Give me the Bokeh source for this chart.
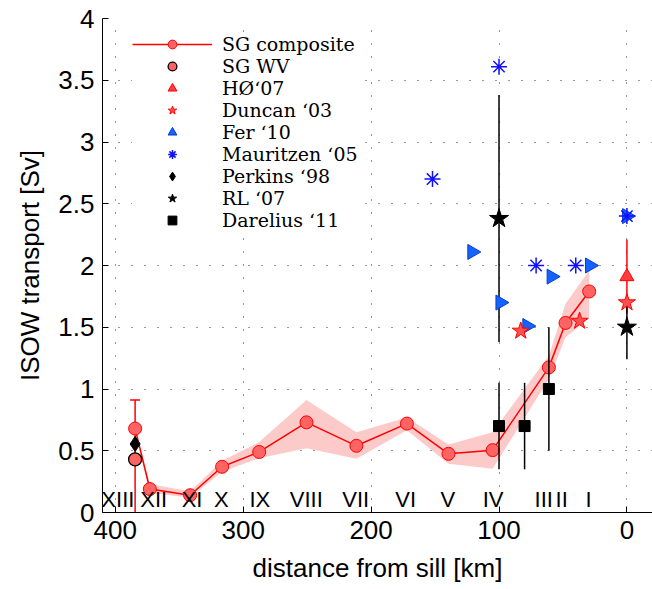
import numpy as np
from bokeh.plotting import figure
from bokeh.models import (Range1d, FixedTicker, CustomJSTickFormatter, Legend,
                          LegendItem, ColumnDataSource)
from bokeh.core.properties import value
from bokeh.embed import file_html
from bokeh.resources import INLINE

# ---------------- data ----------------
# SG composite (stations XIII .. I)
sg_dist = [384.5, 373, 341.5, 316.5, 287.5, 250.5, 211.5, 172, 139.5, 105, 61, 48, 29.5]
sg_transport = [0.68, 0.19, 0.14, 0.37, 0.49, 0.73, 0.54, 0.72, 0.475, 0.505, 1.175, 1.535, 1.79]
sg_lower = [0.67, 0.16, 0.12, 0.33, 0.44, 0.52, 0.435, 0.665, 0.395, 0.355, 1.08, 1.42, 1.57]
sg_upper = [0.69, 0.23, 0.17, 0.42, 0.57, 0.91, 0.65, 0.77, 0.55, 0.65, 1.27, 1.69, 1.96]
# error bar on the westernmost composite value
sg_err_dist = [384.5]
sg_err_top = [0.91]
sg_err_bottom = [-0.03]

sgwv_dist = [384.5]
sgwv_val = [0.43]

ho07_dist = [0]
ho07_val = [1.91]
ho07_err = [0.30]

duncan03_dist = [83, 37, 0]
duncan03_val = [1.47, 1.55, 1.70]

fer10_dist = [121, 99, 78, 59, 29, 0]
fer10_val = [2.11, 1.70, 1.51, 1.91, 2.00, 2.40]

mauritzen05_dist = [152, 100, 71, 40, 0]
mauritzen05_val = [2.70, 3.61, 2.00, 2.00, 2.40]

perkins98_dist = [384.5]
perkins98_val = [0.555]

rl07_dist = [100, 0]
rl07_val = [2.38, 1.50]
rl07_err = [1.00, 0.26]

darelius11_dist = [100, 80, 61]
darelius11_val = [0.70, 0.70, 1.00]
darelius11_err = [0.35, 0.35, 0.50]

roman_labels = ["XIII", "XII", "XI", "X", "IX", "VIII", "VII", "VI", "V", "IV", "III", "II", "I"]
roman_dist = [398, 370, 340, 317, 287, 250.7, 212, 173, 140, 104.6, 65, 51, 30]

x_ticks = [0, 100, 200, 300, 400]
y_ticks = [0, 0.5, 1, 1.5, 2, 2.5, 3, 3.5, 4]

# ---------------- figure ----------------
p = figure(width=652, height=589, x_range=Range1d(410, -20), y_range=Range1d(0, 4),
           output_backend="svg", toolbar_location=None,
           min_border_left=102, min_border_right=0, min_border_top=18, min_border_bottom=77)
p.outline_line_color = None
p.background_fill_color = "white"
p.border_fill_color = "white"

for ax in (p.xaxis[0], p.yaxis[0]):
    ax.major_label_text_font = "Liberation Sans"
    ax.major_label_text_font_size = "26px"
    ax.major_label_text_color = "black"
    ax.axis_label_text_font = "Liberation Sans"
    ax.axis_label_text_font_size = "26px"
    ax.axis_label_text_font_style = "normal"
    ax.axis_label_text_color = "black"
    ax.axis_line_color = "black"
    ax.axis_line_width = 1
    ax.major_tick_in = 6
    ax.major_tick_out = 0
    ax.minor_tick_in = 0
    ax.minor_tick_out = 0
    ax.major_tick_line_color = "black"
    ax.major_label_standoff = 8

p.xaxis.axis_label_standoff = 11
p.yaxis.axis_label_standoff = 10

p.xaxis.ticker = FixedTicker(ticks=x_ticks)
p.yaxis.ticker = FixedTicker(ticks=y_ticks)
p.yaxis.formatter = CustomJSTickFormatter(code="return tick.toString()")
p.xaxis.axis_label = "distance from sill [km]"
p.yaxis.axis_label = "ISOW transport [Sv]"

for g in (p.xgrid[0], p.ygrid[0]):
    g.grid_line_color = "black"
    g.grid_line_dash = "1 12"
    g.grid_line_width = 1
    g.grid_line_alpha = 0.8

# ---------------- glyphs ----------------
src = ColumnDataSource(dict(x=sg_dist, y=sg_transport, lo=sg_lower, hi=sg_upper))
p.varea(x="x", y1="lo", y2="hi", source=src, fill_color="#fdcaca", fill_alpha=1)

p.segment(x0=sg_err_dist, y0=sg_err_bottom, x1=sg_err_dist, y1=sg_err_top,
          line_color="red", line_width=1.5)
p.scatter(x=sg_err_dist, y=sg_err_top, marker="dash", size=10, line_color="red", line_width=1.5)

sg_line = p.line(x="x", y="y", source=src, line_color="red", line_width=1.5)
sg_circ = p.scatter(x="x", y="y", source=src, marker="circle", size=13,
                    fill_color="#ff6464", line_color="red", line_width=1)

sgwv = p.scatter(x=sgwv_dist, y=sgwv_val, marker="circle", size=13,
                 fill_color="#ff6464", line_color="black", line_width=1.3)
perk = p.scatter(x=perkins98_dist, y=perkins98_val, marker="diamond", size=15,
                 fill_color="black", line_color="black")

ho_lo = [v - e for v, e in zip(ho07_val, ho07_err)]
ho_hi = [v + e for v, e in zip(ho07_val, ho07_err)]
p.segment(x0=ho07_dist, y0=ho_lo, x1=ho07_dist, y1=ho_hi, line_color="red", line_width=1.5)
ho = p.scatter(x=ho07_dist, y=ho07_val, marker="triangle", size=14,
               fill_color="#ff3c3c", line_color="red", line_width=1)

rl_lo = [v - e for v, e in zip(rl07_val, rl07_err)]
rl_hi = [v + e for v, e in zip(rl07_val, rl07_err)]
p.segment(x0=rl07_dist, y0=rl_lo, x1=rl07_dist, y1=rl_hi, line_color="black", line_width=1.5)

fer = p.scatter(x=fer10_dist, y=fer10_val, marker="triangle", angle=-np.pi / 2, size=15,
                fill_color="#1463ff", line_color="#0a3cd2", line_width=1)
mau = p.scatter(x=mauritzen05_dist, y=mauritzen05_val, marker="asterisk", size=16,
                line_color="#1010ff", line_width=1.5)
dun = p.scatter(x=duncan03_dist, y=duncan03_val, marker="star", size=18,
                fill_color="#ff5050", line_color="red", line_width=1)
rl = p.scatter(x=rl07_dist, y=rl07_val, marker="star", size=20,
               fill_color="black", line_color="black")

da_lo = [v - e for v, e in zip(darelius11_val, darelius11_err)]
da_hi = [v + e for v, e in zip(darelius11_val, darelius11_err)]
p.segment(x0=darelius11_dist, y0=da_lo, x1=darelius11_dist, y1=da_hi,
          line_color="black", line_width=1.5)
dar = p.scatter(x=darelius11_dist, y=darelius11_val, marker="square", size=11,
                fill_color="black", line_color="black")

p.text(x=roman_dist, y=0.105, text=roman_labels, text_font=value("Liberation Sans"),
       text_font_size="22px", text_align="center", text_baseline="middle",
       text_color="black")

# ---------------- legend ----------------
items = [
    LegendItem(label="SG composite", renderers=[sg_line, sg_circ]),
    LegendItem(label="SG WV", renderers=[sgwv]),
    LegendItem(label="H\u00d8\u201807", renderers=[ho]),
    LegendItem(label="Duncan \u201803", renderers=[dun]),
    LegendItem(label="Fer \u201810", renderers=[fer]),
    LegendItem(label="Mauritzen \u201805", renderers=[mau]),
    LegendItem(label="Perkins \u201898", renderers=[perk]),
    LegendItem(label="RL \u201807", renderers=[rl]),
    LegendItem(label="Darelius \u201811", renderers=[dar]),
]
legend = Legend(items=items, location=(30, 281), margin=0, padding=3,
                glyph_width=80, glyph_height=22, label_height=20, spacing=0,
                label_standoff=10,
                label_text_font="DejaVu Serif", label_text_font_size="19px",
                label_text_color="black", background_fill_color="white",
                background_fill_alpha=1, border_line_color=None)
p.add_layout(legend)

open("out.html", "w").write(file_html(p, INLINE))
